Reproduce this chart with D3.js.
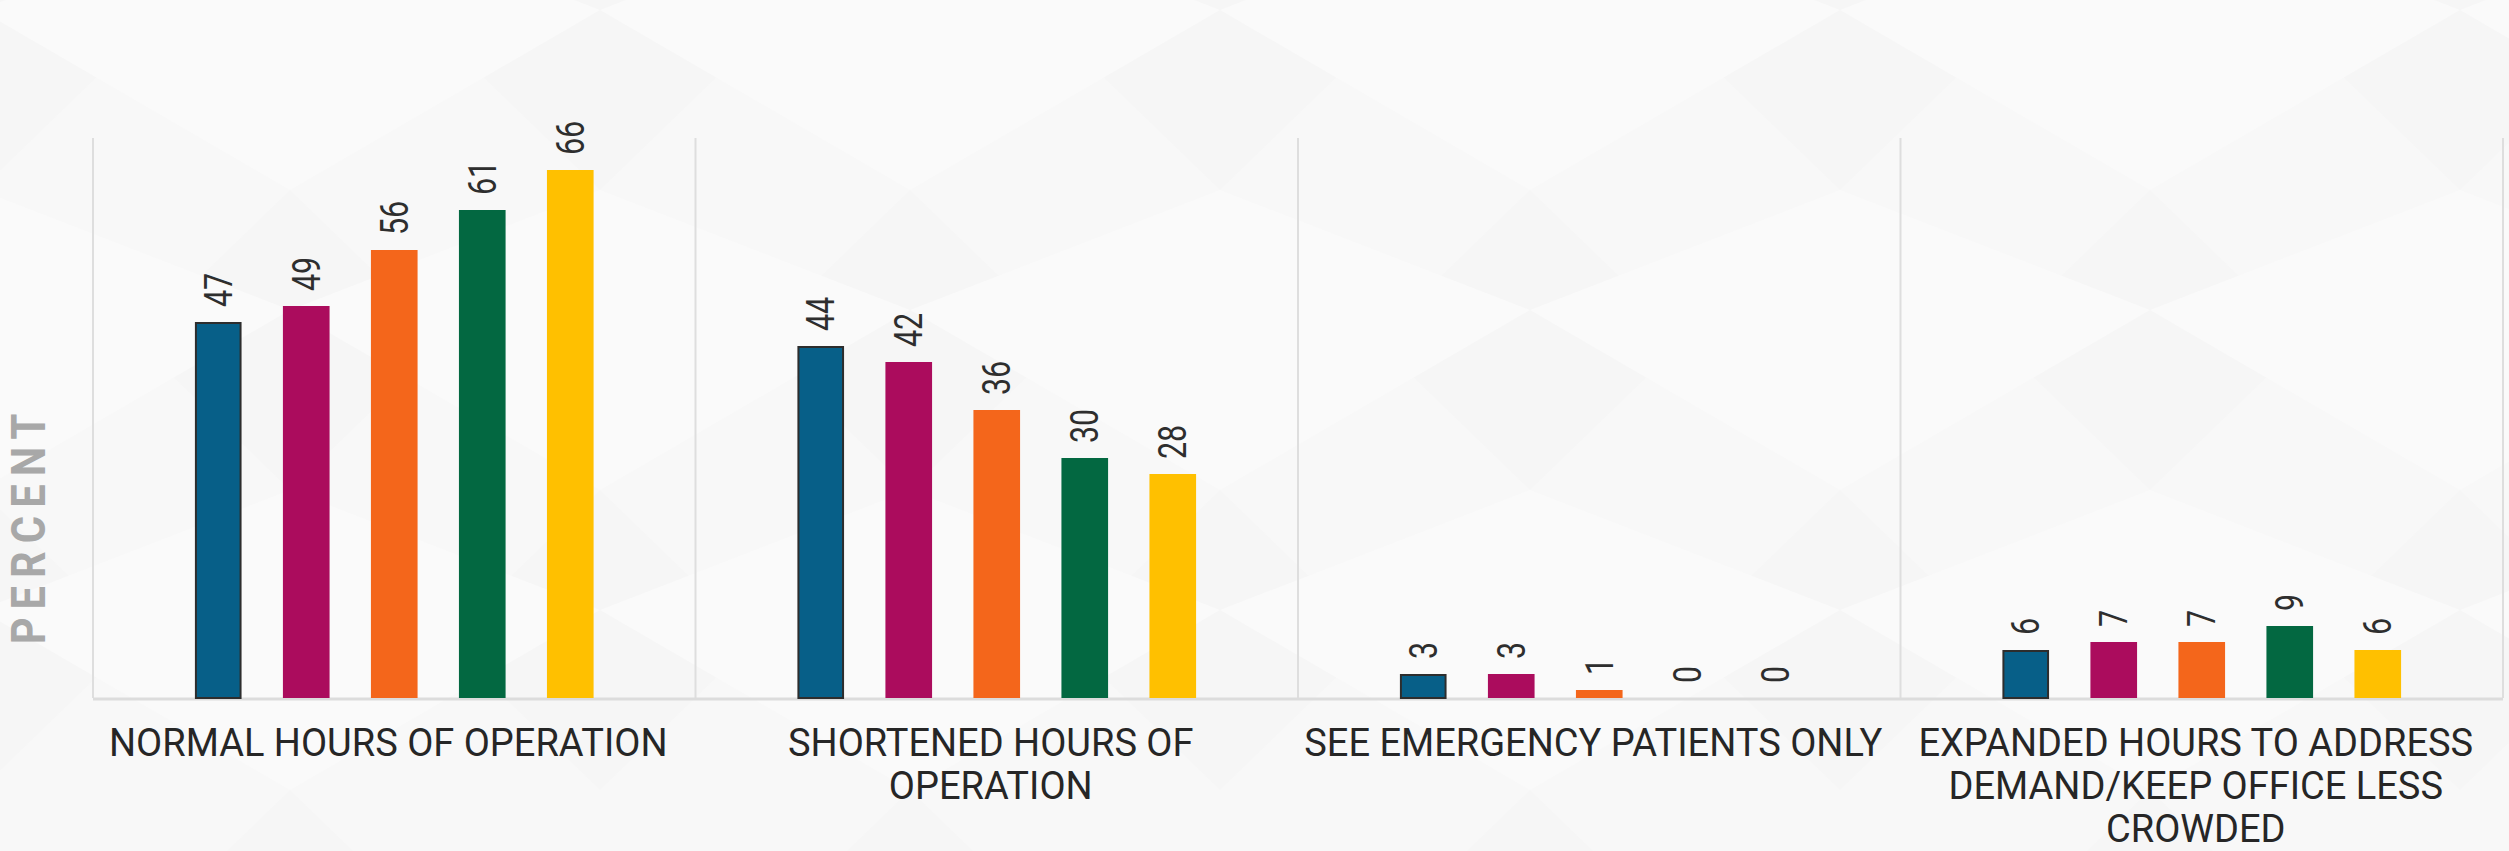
<!DOCTYPE html>
<html>
<head>
<meta charset="utf-8">
<script src="https://cdn.jsdelivr.net/npm/d3@7"></script>
<style>
  html, body { margin: 0; padding: 0; background: #f8f8f8; }
  svg { display: block; }
</style>
</head>
<body>
<svg id="chart" width="2509" height="851"></svg>
<script>
// ---------------- DATA ----------------
const categories = [
  "NORMAL HOURS OF OPERATION",
  "SHORTENED HOURS OF OPERATION",
  "SEE EMERGENCY PATIENTS ONLY",
  "EXPANDED HOURS TO ADDRESS DEMAND/KEEP OFFICE LESS CROWDED"
];
const seriesNames = ["Series 1", "Series 2", "Series 3", "Series 4", "Series 5"];
const series1 = [47, 44, 3, 6];
const series2 = [49, 42, 3, 7];
const series3 = [56, 36, 1, 7];
const series4 = [61, 30, 0, 9];
const series5 = [66, 28, 0, 6];
const seriesValues = [series1, series2, series3, series4, series5];
const yAxisTitle = "PERCENT";
const yDomain = [0, 70];
const seriesColors = ["#075f88", "#ab0c5d", "#f4661b", "#036841", "#ffc000"];

// ---------------- LAYOUT ----------------
const W = 2509, H = 851;
const plot = { left: 93, right: 2503, top: 138, bottom: 698 };

const svg = d3.select("#chart");

// background with very subtle facets (decorative)
const bg = svg.append("g");
bg.append("rect").attr("width", W).attr("height", H).attr("fill", "#f8f8f8");
const tile = 620, rowH = 600;
for (let r = -1; r < 3; r++) {
  for (let c = -1; c < 6; c++) {
    const ox = c * tile + (r % 2 ? tile / 2 : 0) - 20;
    const oy = r * rowH / 2 + 10;
    bg.append("path")
      .attr("d", `M${ox},${oy} L${ox + tile / 2},${oy + rowH * 0.3} L${ox + tile},${oy} L${ox + tile / 2},${oy - rowH * 0.2} Z`)
      .attr("fill", "#fafafa");
    bg.append("path")
      .attr("d", `M${ox + tile / 2},${oy + rowH * 0.3} L${ox + tile * 0.75},${oy + rowH * 0.55} L${ox + tile / 2},${oy + rowH * 0.8} L${ox + tile * 0.25},${oy + rowH * 0.55} Z`)
      .attr("fill", "#f6f6f6");
  }
}

const x0 = d3.scaleBand().domain(categories).range([plot.left, plot.right]).padding(0);
const x1 = d3.scaleBand().domain(seriesNames).range([0, x0.bandwidth()])
  .paddingInner(0.47).paddingOuter(1.158);
const y = d3.scaleLinear().domain(yDomain).range([plot.bottom, plot.top]);
const color = d3.scaleOrdinal().domain(seriesNames).range(seriesColors);

// panel divider lines
const bounds = categories.map(c => x0(c)).concat([x0(categories[categories.length - 1]) + x0.bandwidth()]);
svg.append("g").selectAll("line").data(bounds).join("line")
  .attr("x1", d => d).attr("x2", d => d)
  .attr("y1", y(yDomain[1])).attr("y2", y(0))
  .attr("stroke", "#dedede").attr("stroke-width", 2);

// baseline
svg.append("line")
  .attr("x1", plot.left).attr("x2", plot.right)
  .attr("y1", y(0) + 1).attr("y2", y(0) + 1)
  .attr("stroke", "#dcdcdc").attr("stroke-width", 3);

// bars
const flat = [];
categories.forEach((c, ci) => {
  seriesNames.forEach((s, si) => flat.push({ c, s, si, v: seriesValues[si][ci] }));
});

const bars = svg.append("g");
bars.selectAll("rect").data(flat).join("rect")
  .attr("x", d => x0(d.c) + x1(d.s) + (d.si === 0 ? 1 : 0))
  .attr("y", d => y(d.v) + (d.si === 0 ? 1 : 0))
  .attr("width", d => x1.bandwidth() - (d.si === 0 ? 2 : 0))
  .attr("height", d => Math.max(0, y(0) - y(d.v) - (d.si === 0 ? 1 : 0)))
  .attr("fill", d => color(d.s))
  .attr("stroke", d => d.si === 0 ? "#2d2d2d" : "none")
  .attr("stroke-width", 2);

// value labels (rotated)
svg.append("g").selectAll("g").data(flat).join("g")
  .attr("transform", d => `translate(${x0(d.c) + x1(d.s) + x1.bandwidth() / 2},${y(d.v) - 15})`)
  .append("text")
  .attr("transform", "rotate(-90) scale(0.8,1)")
  .attr("text-anchor", "start")
  .attr("dy", "0.355em")
  .attr("font-family", "Roboto, 'Noto Sans', sans-serif")
  .attr("font-size", 38)
  .attr("fill", "#2e2e2e")
  .text(d => d3.format("d")(d.v));

// category labels with wrapping
const catG = svg.append("g");
const lineH = 43, firstBase = 756, wrapW = 615;
categories.forEach(c => {
  const cx = x0(c) + x0.bandwidth() / 2 - 6;
  const t = catG.append("text")
    .attr("x", cx)
    .attr("y", firstBase)
    .attr("text-anchor", "middle")
    .attr("font-family", "Roboto, 'Noto Sans', sans-serif")
    .attr("font-size", 38)
    .attr("fill", "#262626");
  const words = c.split(" ");
  let line = [];
  let tspan = t.append("tspan").attr("x", cx).attr("dy", 0);
  words.forEach(w => {
    line.push(w);
    tspan.text(line.join(" "));
    if (tspan.node().getComputedTextLength() > wrapW && line.length > 1) {
      line.pop();
      tspan.text(line.join(" "));
      line = [w];
      tspan = t.append("tspan").attr("x", cx).attr("dy", lineH).text(w);
    }
  });
});

// y axis title
svg.append("text")
  .attr("transform", `translate(28,${(plot.top + plot.bottom) / 2 + 107}) rotate(-90) scale(0.85,1)`)
  .attr("text-anchor", "middle")
  .attr("dy", "0.355em")
  .attr("font-family", "Roboto, 'Noto Sans', sans-serif")
  .attr("font-weight", "bold")
  .attr("font-size", 49)
  .attr("letter-spacing", 9.5)
  .attr("fill", "#a8a8a8")
  .text(yAxisTitle);
</script>
</body>
</html>
